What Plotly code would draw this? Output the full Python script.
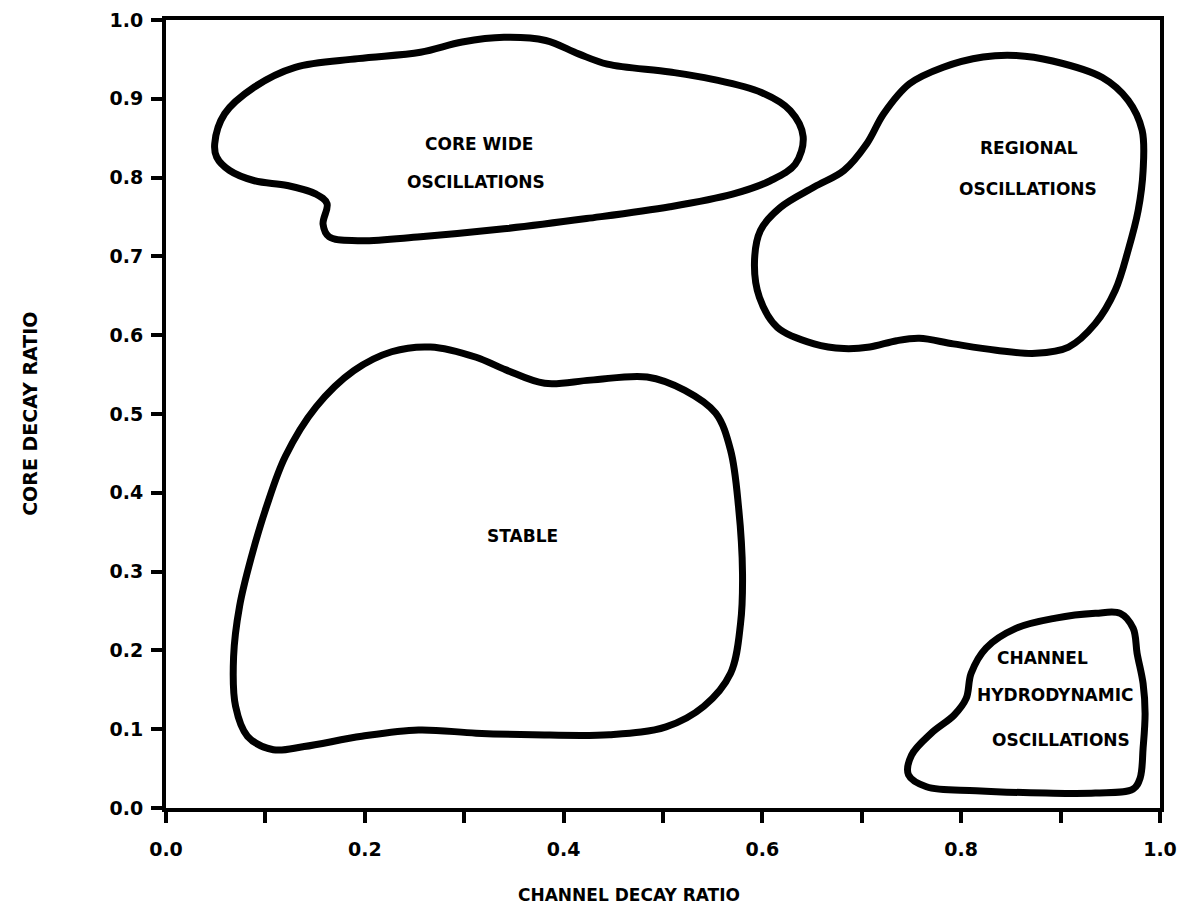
import plotly.graph_objects as go

# ---- data ----
core_x = [0.049, 0.059, 0.089, 0.130, 0.193, 0.256, 0.298, 0.340, 0.382, 0.415, 0.444, 0.507, 0.549, 0.599,
          0.628, 0.641, 0.633, 0.608, 0.570, 0.507, 0.423, 0.340, 0.256, 0.193, 0.164, 0.158, 0.162, 0.151,
          0.122, 0.089, 0.064, 0.051]
core_y = [0.843, 0.881, 0.915, 0.940, 0.951, 0.959, 0.972, 0.978, 0.974, 0.957, 0.944, 0.934, 0.925, 0.908,
          0.885, 0.852, 0.817, 0.796, 0.779, 0.763, 0.748, 0.735, 0.725, 0.720, 0.725, 0.741, 0.767, 0.779,
          0.790, 0.796, 0.809, 0.826]

regional_x = [0.822, 0.855, 0.892, 0.942, 0.968, 0.982, 0.983, 0.978, 0.968, 0.955, 0.935, 0.908, 0.875,
              0.835, 0.792, 0.758, 0.735, 0.708, 0.682, 0.652, 0.615, 0.597, 0.592, 0.598, 0.618, 0.652,
              0.682, 0.705, 0.722, 0.748, 0.782]
regional_y = [0.953, 0.955, 0.948, 0.927, 0.898, 0.860, 0.809, 0.758, 0.708, 0.657, 0.615, 0.585, 0.577,
              0.581, 0.589, 0.596, 0.593, 0.585, 0.583, 0.589, 0.610, 0.648, 0.691, 0.733, 0.762, 0.788,
              0.809, 0.843, 0.881, 0.919, 0.940]

stable_x = [0.266, 0.312, 0.342, 0.381, 0.427, 0.484, 0.522, 0.553, 0.568, 0.576, 0.580, 0.578, 0.568,
            0.541, 0.503, 0.446, 0.369, 0.312, 0.254, 0.197, 0.139, 0.108, 0.082, 0.070, 0.068, 0.074,
            0.086, 0.101, 0.120, 0.151, 0.189, 0.227]
stable_y = [0.585, 0.572, 0.556, 0.539, 0.543, 0.547, 0.530, 0.501, 0.454, 0.382, 0.298, 0.234, 0.171,
            0.129, 0.103, 0.093, 0.093, 0.095, 0.099, 0.091, 0.078, 0.074, 0.091, 0.129, 0.192, 0.256,
            0.319, 0.382, 0.446, 0.509, 0.555, 0.579]

channel_x = [0.810, 0.825, 0.855, 0.895, 0.935, 0.960, 0.973, 0.977, 0.983, 0.985, 0.983, 0.980, 0.973,
             0.935, 0.885, 0.815, 0.765, 0.747, 0.750, 0.770, 0.793, 0.805]
channel_y = [0.171, 0.203, 0.228, 0.241, 0.247, 0.247, 0.228, 0.196, 0.158, 0.120, 0.076, 0.038, 0.024,
             0.019, 0.019, 0.022, 0.027, 0.042, 0.067, 0.095, 0.118, 0.139]

label_text = ["CORE WIDE", "OSCILLATIONS", "REGIONAL", "OSCILLATIONS", "STABLE",
              "CHANNEL", "HYDRODYNAMIC", "OSCILLATIONS"]
label_x = [0.315, 0.312, 0.868, 0.867, 0.359, 0.882, 0.894, 0.900]
label_y = [0.843, 0.795, 0.837, 0.786, 0.345, 0.190, 0.143, 0.086]

x_tickvals = [0.0, 0.1, 0.2, 0.3, 0.4, 0.5, 0.6, 0.7, 0.8, 0.9, 1.0]
x_ticktext = ["0.0", "", "0.2", "", "0.4", "", "0.6", "", "0.8", "", "1.0"]
y_tickvals = [0.0, 0.1, 0.2, 0.3, 0.4, 0.5, 0.6, 0.7, 0.8, 0.9, 1.0]
y_ticktext = ["0.0", "0.1", "0.2", "0.3", "0.4", "0.5", "0.6", "0.7", "0.8", "0.9", "1.0"]

x_title = "CHANNEL DECAY RATIO"
y_title = "CORE DECAY RATIO"

FONT = "DejaVu Sans"

fig = go.Figure()
for xs, ys in [(core_x, core_y), (regional_x, regional_y), (stable_x, stable_y), (channel_x, channel_y)]:
    fig.add_trace(go.Scatter(
        x=xs + [xs[0]], y=ys + [ys[0]], mode="lines",
        line=dict(color="black", width=7, shape="spline", smoothing=1.0),
        showlegend=False, hoverinfo="skip"))

for t, x, y in zip(label_text, label_x, label_y):
    fig.add_annotation(x=x, y=y, text=t, showarrow=False, xref="x", yref="y",
                       font=dict(family=FONT, size=17, color="black", weight="bold"))

# axis titles placed as paper-anchored annotations (matches the reference's offset placement)
fig.add_annotation(x=0.466, y=-0.111, xref="paper", yref="paper", text=x_title, showarrow=False,
                   xanchor="center", yanchor="middle",
                   font=dict(family=FONT, size=17, color="black", weight="bold"))
fig.add_annotation(x=-0.137, y=0.5, xref="paper", yref="paper", text=y_title, showarrow=False,
                   textangle=-90, xanchor="center", yanchor="middle",
                   font=dict(family=FONT, size=19, color="black", weight="bold"))

axis_common = dict(range=[0, 1], showgrid=False, zeroline=False, showline=True, linecolor="black",
                   linewidth=4, mirror=True, ticks="outside", tickcolor="black", tickwidth=4,
                   ticklen=11, tickfont=dict(family=FONT, size=19, color="black", weight="bold"))

fig.update_xaxes(**axis_common, tickvals=x_tickvals, ticktext=x_ticktext, ticklabelstandoff=10)
fig.update_yaxes(**axis_common, tickvals=y_tickvals, ticktext=y_ticktext, ticklabelstandoff=4)

fig.update_layout(width=1171, height=900, plot_bgcolor="white", paper_bgcolor="white",
                  margin=dict(l=158, r=19, t=12, b=100, autoexpand=False))

fig.write_html("out.html")
